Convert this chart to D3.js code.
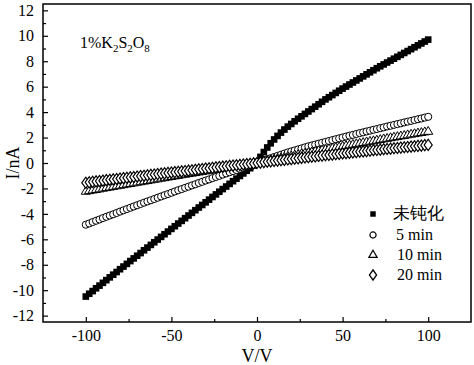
<!DOCTYPE html>
<html>
<head>
<meta charset="utf-8">
<script src="https://cdn.jsdelivr.net/npm/d3@7"></script>
<style>
  body { margin: 0; background: #fff; }
  text { font-family: "Liberation Serif", "Times New Roman", serif; fill: #000; }
</style>
</head>
<body>
<div id="chart"></div>
<script>
// voltage sweep (V)
const voltage = [
  -100, -98, -96, -94, -92, -90, -88, -86, -84, -82, -80, -78, -76, -74, -72, -70, -68, -66, -64, -62,
  -60, -58, -56, -54, -52, -50, -48, -46, -44, -42, -40, -38, -36, -34, -32, -30, -28, -26, -24, -22,
  -20, -18, -16, -14, -12, -10, -8, -6, -4, -2, 0, 2, 4, 6, 8, 10, 12, 14, 16, 18,
  20, 22, 24, 26, 28, 30, 32, 34, 36, 38, 40, 42, 44, 46, 48, 50, 52, 54, 56, 58,
  60, 62, 64, 66, 68, 70, 72, 74, 76, 78, 80, 82, 84, 86, 88, 90, 92, 94, 96, 98, 100
];

// current (nA), untreated
const unpassivated = [
  -10.50, -10.28, -10.07, -9.85, -9.64, -9.42, -9.21, -8.99, -8.78, -8.57, -8.35, -8.14, -7.93, -7.71, -7.50, -7.29, -7.08, -6.86, -6.65, -6.44,
  -6.23, -6.02, -5.81, -5.60, -5.39, -5.18, -4.97, -4.76, -4.55, -4.34, -4.13, -3.92, -3.71, -3.50, -3.30, -3.09, -2.88, -2.67, -2.47, -2.26,
  -2.05, -1.85, -1.64, -1.43, -1.23, -1.02, -0.82, -0.61, -0.41, -0.20, 0.10, 0.48, 0.86, 1.22, 1.55, 1.85, 2.13, 2.39, 2.63, 2.86,
  3.07, 3.28, 3.48, 3.67, 3.86, 4.05, 4.24, 4.43, 4.62, 4.81, 5.00, 5.17, 5.34, 5.51, 5.68, 5.85, 6.01, 6.17, 6.33, 6.49,
  6.65, 6.81, 6.97, 7.13, 7.29, 7.45, 7.60, 7.75, 7.90, 8.05, 8.20, 8.35, 8.50, 8.65, 8.80, 8.95, 9.10, 9.25, 9.40, 9.55, 9.70
];

// 5 min
const min5 = [
  -4.85, -4.75, -4.64, -4.54, -4.44, -4.33, -4.23, -4.13, -4.03, -3.93, -3.82, -3.72, -3.62, -3.52, -3.42, -3.32, -3.22, -3.12, -3.02, -2.93,
  -2.83, -2.73, -2.63, -2.53, -2.44, -2.34, -2.24, -2.14, -2.05, -1.95, -1.86, -1.76, -1.67, -1.57, -1.48, -1.38, -1.29, -1.19, -1.10, -1.01,
  -0.91, -0.82, -0.73, -0.64, -0.55, -0.45, -0.36, -0.27, -0.18, -0.09, 0.00, 0.10, 0.20, 0.29, 0.38, 0.47, 0.56, 0.65, 0.74, 0.83,
  0.91, 0.99, 1.07, 1.15, 1.23, 1.31, 1.38, 1.45, 1.52, 1.59, 1.66, 1.73, 1.80, 1.87, 1.94, 2.01, 2.08, 2.15, 2.21, 2.28,
  2.35, 2.41, 2.48, 2.54, 2.61, 2.67, 2.74, 2.80, 2.87, 2.93, 3.00, 3.06, 3.12, 3.19, 3.25, 3.31, 3.38, 3.44, 3.50, 3.57, 3.63
];

// 10 min
const min10 = [
  -2.25, -2.20, -2.15, -2.11, -2.06, -2.01, -1.96, -1.92, -1.87, -1.82, -1.78, -1.73, -1.68, -1.64, -1.59, -1.54, -1.50, -1.45, -1.41, -1.36,
  -1.31, -1.27, -1.22, -1.18, -1.13, -1.09, -1.04, -1.00, -0.95, -0.91, -0.86, -0.82, -0.78, -0.73, -0.69, -0.64, -0.60, -0.56, -0.51, -0.47,
  -0.43, -0.38, -0.34, -0.30, -0.25, -0.21, -0.17, -0.13, -0.08, -0.04, 0.00, 0.06, 0.11, 0.17, 0.22, 0.28, 0.33, 0.38, 0.43, 0.49,
  0.54, 0.59, 0.64, 0.69, 0.74, 0.79, 0.84, 0.89, 0.94, 0.99, 1.04, 1.09, 1.14, 1.19, 1.24, 1.29, 1.34, 1.39, 1.44, 1.49,
  1.53, 1.58, 1.63, 1.68, 1.72, 1.77, 1.82, 1.87, 1.91, 1.96, 2.01, 2.05, 2.10, 2.14, 2.19, 2.24, 2.28, 2.33, 2.37, 2.42, 2.46
];

// 20 min
const min20 = [
  -1.55, -1.52, -1.48, -1.45, -1.42, -1.39, -1.35, -1.32, -1.29, -1.26, -1.22, -1.19, -1.16, -1.13, -1.10, -1.06, -1.03, -1.00, -0.97, -0.94,
  -0.91, -0.87, -0.84, -0.81, -0.78, -0.75, -0.72, -0.69, -0.66, -0.63, -0.60, -0.57, -0.54, -0.50, -0.47, -0.44, -0.41, -0.38, -0.35, -0.32,
  -0.29, -0.26, -0.23, -0.20, -0.18, -0.15, -0.12, -0.09, -0.06, -0.03, 0.00, 0.03, 0.07, 0.10, 0.13, 0.16, 0.19, 0.22, 0.25, 0.28,
  0.31, 0.34, 0.37, 0.40, 0.43, 0.46, 0.49, 0.52, 0.55, 0.58, 0.61, 0.63, 0.66, 0.69, 0.72, 0.75, 0.77, 0.80, 0.83, 0.86,
  0.89, 0.91, 0.94, 0.97, 1.00, 1.02, 1.05, 1.08, 1.10, 1.13, 1.16, 1.18, 1.21, 1.24, 1.26, 1.29, 1.32, 1.34, 1.37, 1.40, 1.42
];

const seriesNames = ["未钝化", "5 min", "10 min", "20 min"];
const seriesSymbols = ["square", "circle", "triangle", "diamond"];
const xTicks = [-100, -50, 0, 50, 100];
const yTicks = [-12, -10, -8, -6, -4, -2, 0, 2, 4, 6, 8, 10, 12];

const serif = '"Liberation Serif", "Times New Roman", serif';

const width = 474, height = 365;
const margin = {top: 4, right: 3, bottom: 43, left: 43};

const svg = d3.select("#chart").append("svg")
  .attr("width", width)
  .attr("height", height);

const x = d3.scaleLinear().domain([-125, 125]).range([margin.left, width - margin.right]);
const y = d3.scaleLinear().domain([-12.5, 12.5]).range([height - margin.bottom, margin.top]);

function symbolPath(kind, size) {
  const map = {
    square: d3.symbolSquare,
    circle: d3.symbolCircle,
    triangle: d3.symbolTriangle,
    diamond: d3.symbolDiamond
  };
  return d3.symbol().type(map[kind]).size(size)();
}

const sizes = {square: 44, circle: 40, triangle: 36, diamond: 36};

const allSeries = [unpassivated, min5, min10, min20];

allSeries.forEach((vals, si) => {
  const kind = seriesSymbols[si];
  const g = svg.append("g").attr("class", "series-" + si);
  g.selectAll("path")
    .data(voltage.map((v, i) => ({v: v, i: vals[i]})))
    .join("path")
    .attr("d", symbolPath(kind, sizes[kind]))
    .attr("transform", d => `translate(${x(d.v)},${y(d.i)})` + (kind === "diamond" ? " scale(1.25,1)" : ""))
    .attr("fill", kind === "square" ? "#000" : "#fff")
    .attr("stroke", "#000")
    .attr("stroke-width", kind === "square" ? 0 : 1);
});

// axes, ticks pointing inward
const fmt = d => String(d);
const xAxis = svg.append("g")
  .attr("transform", `translate(0,${height - margin.bottom})`)
  .call(d3.axisBottom(x).tickValues(xTicks).tickSize(-5).tickPadding(8).tickFormat(fmt));
const xMinor = svg.append("g")
  .attr("transform", `translate(0,${height - margin.bottom})`)
  .call(d3.axisBottom(x).tickValues([-75, -25, 25, 75]).tickSize(-3).tickFormat(""));

const yAxis = svg.append("g")
  .attr("transform", `translate(${margin.left},0)`)
  .call(d3.axisLeft(y).tickValues(yTicks).tickSize(-5).tickPadding(9).tickFormat(fmt));
const yMinor = svg.append("g")
  .attr("transform", `translate(${margin.left},0)`)
  .call(d3.axisLeft(y).tickValues(d3.range(-11, 12, 2)).tickSize(-3).tickFormat(""));

[xAxis, xMinor, yAxis, yMinor].forEach(a => {
  a.attr("font-family", serif).attr("font-size", 16);
  a.select(".domain").remove();
  a.selectAll("line").attr("stroke", "#000").attr("stroke-width", 1.2);
});

// frame
svg.append("rect")
  .attr("x", margin.left)
  .attr("y", margin.top)
  .attr("width", width - margin.left - margin.right)
  .attr("height", height - margin.top - margin.bottom)
  .attr("fill", "none")
  .attr("stroke", "#000")
  .attr("stroke-width", 1.5);

// axis titles
svg.append("text")
  .attr("x", x(0))
  .attr("y", 362)
  .attr("text-anchor", "middle")
  .attr("font-family", serif)
  .attr("font-size", 18)
  .text("V/V");

svg.append("text")
  .attr("transform", `translate(19,${y(0)}) rotate(-90)`)
  .attr("text-anchor", "middle")
  .attr("font-family", serif)
  .attr("font-size", 18)
  .text("I/nA");

// sample label
const note = svg.append("text")
  .attr("x", 80)
  .attr("y", 48)
  .attr("font-family", serif)
  .attr("font-size", 16);
note.append("tspan").text("1%K");
note.append("tspan").attr("dy", 4).attr("font-size", 11).text("2");
note.append("tspan").attr("dy", -4).text("S");
note.append("tspan").attr("dy", 4).attr("font-size", 11).text("2");
note.append("tspan").attr("dy", -4).text("O");
note.append("tspan").attr("dy", 4).attr("font-size", 11).text("8");

// legend
const legendY = [214, 235, 255, 275];
seriesNames.forEach((name, i) => {
  const kind = seriesSymbols[i];
  svg.append("path")
    .attr("d", symbolPath(kind, 30))
    .attr("transform", `translate(373,${legendY[i]})` + (kind === "diamond" ? " scale(1.2,1)" : ""))
    .attr("fill", kind === "square" ? "#000" : "#fff")
    .attr("stroke", "#000")
    .attr("stroke-width", kind === "square" ? 0 : 1.2);
  svg.append("text")
    .attr("x", i === 0 ? 393 : (i === 1 ? 396 : 397))
    .attr("y", legendY[i] + 5)
    .attr("font-size", i === 0 ? 17 : 16)
    .attr("font-family", i === 0 ? '"Noto Sans CJK SC", sans-serif' : serif)
    .text(name);
});
</script>
</body>
</html>
